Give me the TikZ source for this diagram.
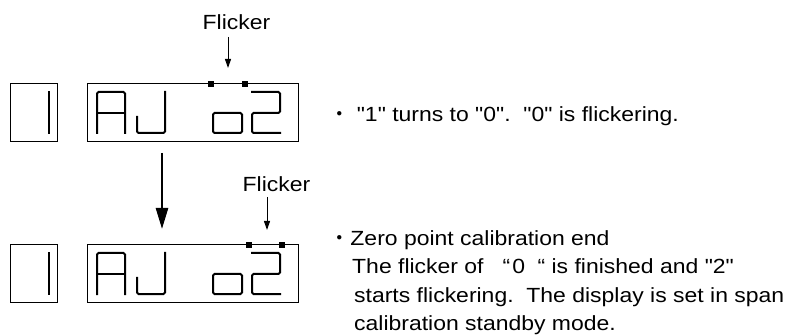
\documentclass[tikz,border=0pt]{standalone}
\usepackage{fontspec}
\setmainfont{Liberation Sans}[FakeStretch=1.12, Ligatures=TeXOff]
\newfontfamily\cjk{Noto Sans CJK JP}
\usetikzlibrary{arrows.meta}
\tikzset{
  frame/.style={draw, line width=1pt},
  seg/.style={line width=2pt, rounded corners=1.5pt, line cap=rect},
  marker/.style={fill=black, minimum width=6pt, minimum height=6pt, inner sep=0pt, draw=none},
  txt/.style={font=\fontsize{20.5}{24}\selectfont, inner sep=0pt, anchor=base west},
  lbl/.style={font=\fontsize{20.5}{24}\selectfont, inner sep=0pt, anchor=base},
  thin arrow/.style={line width=1pt, -{Triangle[length=9pt,width=6pt]}},
  big arrow/.style={line width=2.5pt, -{Triangle[length=21pt,width=12pt]}}
}
\newcommand{\lcddisplay}[1]{%
  \begin{scope}[shift={(0,#1)}]
    \draw[frame] (10,0) rectangle (57,57.5);
    \draw[seg] (49,8) -- (49,49);
    \draw[frame] (87,0) rectangle (298,57.5);
    \draw[seg] (97,49) -- (97,8) -- (125,8) -- (125,49);
    \draw[seg] (97,29) -- (125,29);
    \draw[seg] (137,33) -- (137,49) -- (165,49) -- (165,8);
    \draw[seg] (213,29) rectangle (242,49);
    \draw[seg] (252,8) -- (280,8) -- (280,29) -- (252,29) -- (252,49) -- (280,49);
  \end{scope}}
\begin{document}
\begin{tikzpicture}[x=1pt,y=-1pt]
\useasboundingbox (0,0) rectangle (794,336);
% top display
\lcddisplay{84}
\node[marker] (m1) at (211,84) {};
\node[marker] (m2) at (245,84) {};
\node[lbl] (f1) at (236.5,30) {Flicker};
\coordinate (f1tip) at (228,68);
\draw[thin arrow] (228,37) -- (f1tip);
% bottom display
\lcddisplay{245}
\node[marker] (m3) at (249,245) {};
\node[marker] (m4) at (282,245) {};
\node[lbl] (f2) at (276.5,192) {Flicker};
\coordinate (f2tip) at (267,230);
\draw[thin arrow] (267,197) -- (f2tip);
% big arrow
\coordinate (bigA) at (162,153);
\coordinate (bigB) at (162,229);
\draw[big arrow] (bigA) -- (bigB);
% texts
\node[txt] (t1) at (329.75,121.7) {{\cjk ・} "1" turns to "0".\ \ "0" is flickering.};
\node[txt] (t2a) at (329.75,246) {{\cjk ・}Zero point calibration end};
\node[txt] (t2b) at (352,274) {The flicker of\hspace{19pt}“\hspace{2pt}0\hspace{12.6pt}“ is finished and "2"};
\node[txt] (t2c) at (354,302) {starts flickering.\ \ The display is set in span};
\node[txt] (t2d) at (354,330) {calibration standby mode.};
\end{tikzpicture}
\end{document}
